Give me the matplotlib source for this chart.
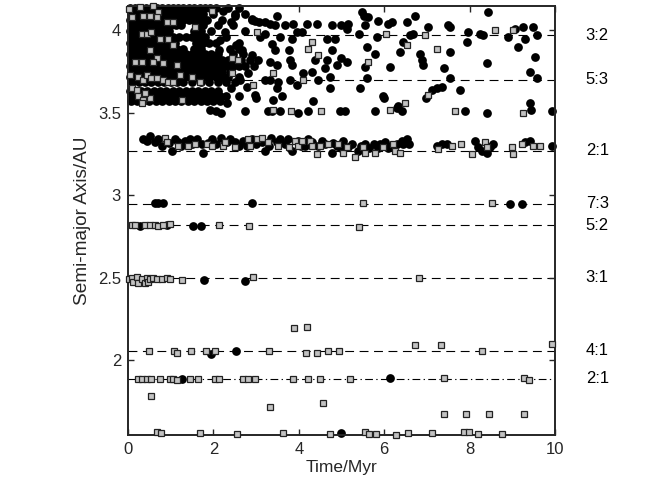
import matplotlib
matplotlib.use("Agg")
import matplotlib.pyplot as plt
from matplotlib.ticker import FuncFormatter

plt.rcParams['font.family'] = ['Liberation Sans', 'DejaVu Sans']

# resonance locations (AU) and their labels
res_a = [3.97, 3.70, 3.27, 2.95, 2.82, 2.50, 2.06, 1.89]
res_lab = ["3:2", "5:3", "2:1", "7:3", "5:2", "3:1", "4:1", "2:1"]

# dense clump of black particles at early times, given row by row
blob_a = [4.135, 4.10, 4.065, 4.03, 3.995, 3.96, 3.925, 3.89, 3.855,
          3.82, 3.785, 3.75, 3.715, 3.685, 3.635, 3.605, 3.575]
blob_t = [
    [0.05, 0.17, 0.3, 0.42, 0.55, 0.68, 0.8, 0.93, 1.05, 1.18, 1.3, 1.43, 1.55, 1.68, 1.8, 1.93, 2.05, 2.35, 2.6],
    [0.08, 0.2, 0.33, 0.46, 0.6, 0.72, 0.85, 0.98, 1.1, 1.23, 1.36, 1.5, 1.62, 1.75, 2.0, 2.5, 2.75],
    [0.04, 0.16, 0.28, 0.4, 0.53, 0.66, 0.78, 0.9, 1.03, 1.16, 1.3, 1.42, 1.55, 1.68, 1.85, 2.2, 2.9],
    [0.1, 0.22, 0.35, 0.48, 0.6, 0.73, 0.86, 1.0, 1.12, 1.25, 1.6, 1.75, 2.1, 2.45],
    [0.05, 0.18, 0.3, 0.43, 0.56, 0.7, 0.82, 0.95, 1.55, 1.7, 1.95, 2.75],
    [0.1, 0.23, 0.36, 0.5, 0.62, 0.75, 0.9, 1.05, 1.2, 1.35, 1.5, 1.65, 1.8, 2.3],
    [0.04, 0.17, 0.3, 0.42, 0.55, 0.68, 0.8, 0.95, 1.1, 1.6, 1.75, 1.9, 2.05, 2.6],
    [0.1, 0.22, 0.35, 0.48, 0.6, 0.73, 0.86, 1.0, 1.15, 1.3, 1.55, 1.7, 2.4, 2.6],
    [0.05, 0.18, 0.3, 0.43, 0.56, 0.7, 0.82, 0.95, 1.08, 1.22, 1.35, 1.5, 1.65, 1.8, 1.95, 2.1, 2.45, 2.7],
    [0.1, 0.23, 0.36, 0.5, 0.62, 0.75, 0.9, 1.03, 1.16, 1.3, 1.45, 1.6, 1.75, 1.9, 2.05, 2.2, 2.35, 2.5, 2.65, 2.85],
    [0.04, 0.17, 0.3, 0.42, 0.55, 0.68, 0.8, 0.95, 1.1, 1.25, 1.4, 1.55, 1.7, 1.85, 2.0, 2.15, 2.3, 2.45, 2.6, 2.75, 2.95],
    [0.1, 0.22, 0.35, 0.48, 0.6, 0.73, 0.86, 1.0, 1.15, 1.3, 1.45, 1.6, 1.75, 1.9, 2.05, 2.2, 2.4],
    [0.05, 0.18, 0.3, 0.43, 0.56, 0.7, 0.85, 1.0, 1.15, 1.3, 1.45, 1.6, 1.75, 1.9, 2.05, 2.2, 2.35, 2.6],
    [0.1, 0.25, 0.4, 0.55, 0.7, 0.85, 1.0, 1.15, 1.3, 1.5, 1.7, 1.9, 2.1, 2.3, 2.5],
    [0.05, 0.18, 0.3, 0.45, 0.6, 0.75, 0.9, 1.05, 1.2, 1.35, 1.5, 1.65, 1.8, 1.95, 2.1],
    [0.1, 0.22, 0.35, 0.5, 0.65, 0.8, 0.95, 1.1, 1.25, 1.4, 1.55, 1.7, 1.85, 2.0, 2.15, 2.3],
    [0.06, 0.2, 0.35, 0.5, 0.65, 0.8, 0.95, 1.1, 1.25, 1.4, 1.55, 1.7, 1.85, 2.0, 2.15],
]

# scattered black particles in the outer belt
outer_circ = [
    (2.5, 4.09), (2.9, 4.07), (3.06, 4.05), (2.78, 3.66), (2.98, 3.61),
    (2.22, 4.12), (2.42, 4.05), (2.28, 3.99), (2.16, 3.94), (2.52, 3.91), (2.82, 3.74),
    (2.62, 3.70), (2.42, 3.65), (2.32, 3.56), (2.6, 3.60), (2.68, 3.88), (2.12, 3.88),
    (3.48, 4.09), (2.97, 4.06), (3.2, 4.05), (3.33, 4.04), (3.44, 4.03), (3.68, 4.03), (3.87, 4.04),
    (4.07, 3.99), (4.19, 4.04), (4.42, 4.04), (3.95, 3.99), (3.83, 3.95), (3.56, 3.96), (3.21, 3.98),
    (3.1, 3.96), (3.37, 3.92), (3.44, 3.88), (3.76, 3.88), (3.8, 3.82), (3.83, 3.79), (2.9, 3.85),
    (3.05, 3.82), (3.33, 3.81), (3.48, 3.79), (3.33, 3.70), (3.21, 3.70), (3.52, 3.69), (3.79, 3.70),
    (3.95, 3.67), (4.11, 3.74), (4.3, 3.75), (4.46, 3.70), (4.73, 3.72), (4.73, 3.65), (4.38, 3.82),
    (4.65, 3.82), (4.61, 3.77), (4.77, 3.88), (4.89, 3.79), (5.0, 3.83), (5.12, 3.81), (4.65, 3.95),
    (4.85, 3.95), (4.77, 4.03), (5.0, 4.03), (5.12, 4.01), (5.16, 4.04), (5.4, 3.98), (5.48, 4.11),
    (5.52, 4.09), (5.63, 4.08), (5.55, 4.03), (5.86, 4.06), (5.83, 3.96), (6.1, 4.04), (6.18, 4.05),
    (6.53, 4.05), (5.59, 3.9), (5.79, 3.86), (5.55, 3.78), (5.59, 3.71), (5.44, 3.65), (6.14, 3.78),
    (6.37, 3.87), (6.45, 3.93), (3.0, 3.59), (3.4, 3.58), (3.6, 3.6), (3.48, 3.65), (4.34, 3.57),
    (6.0, 3.59), (6.3, 3.53), (6.41, 3.51), (3.37, 3.51), (3.56, 3.51), (3.99, 3.50), (4.22, 3.51),
    (4.96, 3.51), (5.08, 3.51), (5.79, 3.51), (1.92, 3.52), (2.05, 3.51), (2.19, 3.50), (2.74, 3.51),
    (3.28, 3.51),
    (6.72, 4.09), (6.6, 3.97), (6.68, 3.98), (7.03, 4.02), (6.84, 3.86), (6.88, 3.82), (6.92, 3.79),
    (7.5, 4.03), (7.54, 4.02), (7.54, 3.87), (7.39, 3.77), (7.54, 3.71), (7.78, 3.64), (7.35, 3.66),
    (7.23, 3.65), (7.11, 3.64), (6.99, 3.59), (7.97, 3.99), (7.93, 3.93), (8.25, 3.98), (8.32, 3.97),
    (8.44, 4.11), (8.4, 3.80), (8.91, 3.96), (9.07, 4.01), (9.26, 4.02), (9.49, 4.02), (9.57, 3.97),
    (9.3, 3.95), (9.14, 3.90), (9.53, 3.84), (9.41, 3.75), (9.57, 3.71), (5.98, 3.60), (6.33, 3.54),
    (7.89, 3.51), (8.4, 3.50), (9.41, 3.56), (9.45, 3.52), (9.92, 3.51),
]

# grey squares in the outer belt
outer_sq = [
    (0.02, 4.13), (0.09, 4.08), (0.28, 4.14), (0.59, 4.15), (0.71, 4.11), (0.36, 4.09), (0.52, 4.09),
    (0.67, 4.08), (0.91, 4.05), (1.06, 4.05), (1.96, 4.12), (1.57, 4.02), (0.32, 3.98), (0.44, 3.98),
    (0.55, 3.99), (0.75, 3.95), (0.94, 3.95), (1.06, 3.91), (0.52, 3.88), (0.67, 3.83), (0.16, 3.81),
    (0.32, 3.81), (0.59, 3.81), (1.14, 3.79), (0.83, 3.80), (2.43, 3.83), (2.58, 3.82), (0.05, 3.73),
    (0.24, 3.72), (0.36, 3.70), (0.44, 3.73), (0.55, 3.71), (0.67, 3.71), (0.83, 3.70), (0.94, 3.69),
    (1.06, 3.69), (1.22, 3.73), (1.49, 3.72), (1.69, 3.69), (2.43, 3.74), (0.09, 3.65), (0.2, 3.64),
    (0.24, 3.60), (0.36, 3.58), (0.52, 3.59), (0.32, 3.56), (1.26, 3.58), (0.40, 3.62),
    (3.01, 3.99), (4.3, 3.93), (4.22, 3.89), (4.46, 3.85), (5.63, 3.81), (6.04, 3.98), (6.53, 3.91),
    (3.4, 3.74), (2.93, 3.67), (4.11, 3.70), (3.4, 3.52), (3.81, 3.51), (4.51, 3.51), (6.14, 3.52),
    (6.49, 3.56), (6.96, 3.97), (7.23, 3.89), (7.03, 3.61), (7.66, 3.51), (8.6, 4.0), (9.02, 4.0),
    (9.26, 3.50),
]

# 2:1 resonance band
band_circ = [
    (0.36, 3.342), (0.52, 3.362), (0.63, 3.321), (0.79, 3.30), (1.02, 3.27), (1.18, 3.321),
    (1.34, 3.331), (1.45, 3.342), (1.61, 3.342), (1.73, 3.311), (1.76, 3.26), (1.96, 3.342),
    (2.19, 3.351), (2.31, 3.321), (2.51, 3.321), (2.7, 3.331), (2.90, 3.342), (3.13, 3.321),
    (3.21, 3.27), (3.36, 3.351), (3.48, 3.321), (3.68, 3.311), (3.83, 3.27), (3.99, 3.331),
    (4.15, 3.30), (4.30, 3.321), (4.46, 3.30), (4.61, 3.311), (4.77, 3.26), (4.89, 3.30),
    (5.04, 3.331), (5.16, 3.291), (5.39, 3.27), (5.55, 3.311), (5.75, 3.311), (5.90, 3.311),
    (6.02, 3.321), (6.17, 3.30), (6.41, 3.331), (6.53, 3.342), (6.57, 3.311),
    (0.45, 3.33), (0.95, 3.32), (1.25, 3.30), (2.05, 3.31), (2.6, 3.30), (3.0, 3.31),
    (3.55, 3.34), (4.05, 3.30), (4.55, 3.33), (5.25, 3.31), (5.65, 3.29), (6.3, 3.31),
    (0.7, 3.34), (1.1, 3.34), (1.5, 3.31), (1.88, 3.32), (2.4, 3.34), (2.78, 3.30),
    (3.3, 3.30), (3.75, 3.34), (4.22, 3.34), (4.8, 3.32), (5.0, 3.29), (5.45, 3.30),
    (5.85, 3.29), (6.1, 3.29), (6.45, 3.31),
    (7.23, 3.30), (7.35, 3.311), (7.46, 3.311), (8.13, 3.331), (8.20, 3.291), (8.28, 3.27),
    (8.4, 3.26), (8.48, 3.291), (8.56, 3.311), (9.3, 3.321), (9.41, 3.331), (9.92, 3.30),
]
band_sq = [
    (0.87, 3.351), (0.91, 3.321), (1.18, 3.30), (1.41, 3.30), (1.57, 3.311), (1.84, 3.311),
    (1.96, 3.30), (2.23, 3.30), (2.27, 3.321), (2.51, 3.291), (2.82, 3.342), (2.86, 3.30),
    (3.01, 3.342), (3.13, 3.351), (3.29, 3.321), (3.52, 3.30), (3.76, 3.291), (3.91, 3.331),
    (3.99, 3.30), (4.07, 3.331), (4.26, 3.331), (4.30, 3.30), (4.42, 3.25), (4.50, 3.30),
    (4.69, 3.311), (4.93, 3.311), (5.04, 3.26), (5.12, 3.291), (5.32, 3.23), (5.51, 3.291),
    (5.55, 3.26), (5.78, 3.26), (5.98, 3.291), (6.21, 3.311), (6.25, 3.27), (6.37, 3.26),
    (7.27, 3.28), (7.58, 3.30), (7.81, 3.311), (8.05, 3.25), (8.36, 3.321), (8.40, 3.291),
    (8.99, 3.291), (9.02, 3.25), (9.22, 3.311), (9.49, 3.30), (9.65, 3.30),
]

# inner-belt particles (7:3, 5:2, 3:1, 4:1, 2:1 and below)
inner_circ = [
    (0.63, 2.953), (0.71, 2.953), (0.83, 2.957), (2.90, 2.953), (8.95, 2.951), (9.23, 2.951),
    (0.28, 2.815), (0.91, 2.819), (1.53, 2.817), (1.72, 2.815),
    (1.78, 2.486), (2.74, 2.482),
    (1.94, 2.041), (2.53, 2.055),
    (1.26, 1.889), (6.14, 1.892),
    (4.99, 1.56),
]
inner_sq = [
    (5.51, 2.957), (8.53, 2.956),
    (0.09, 2.819), (0.16, 2.819), (0.4, 2.819), (0.51, 2.819), (0.63, 2.819), (0.71, 2.815),
    (0.83, 2.819), (0.98, 2.826), (2.12, 2.821), (2.84, 2.813), (5.42, 2.811),
    (0.02, 2.491), (0.09, 2.497), (0.12, 2.477), (0.2, 2.505), (0.24, 2.47), (0.32, 2.491),
    (0.4, 2.47), (0.44, 2.497), (0.48, 2.477), (0.51, 2.491), (0.59, 2.497), (0.67, 2.491),
    (0.79, 2.491), (0.91, 2.497), (0.98, 2.491), (1.26, 2.485), (2.92, 2.505), (6.81, 2.50),
    (0.5, 2.055), (1.08, 2.055), (1.14, 2.045), (1.47, 2.055), (1.83, 2.055), (2.04, 2.055),
    (3.31, 2.055), (4.17, 2.045), (4.43, 2.045), (4.69, 2.055), (4.95, 2.055),
    (3.89, 2.196), (4.2, 2.202), (6.72, 2.095), (7.33, 2.095), (8.28, 2.055), (9.92, 2.10),
    (0.24, 1.889), (0.32, 1.889), (0.44, 1.889), (0.55, 1.889), (0.75, 1.889), (0.98, 1.889),
    (1.06, 1.889), (1.14, 1.882), (1.45, 1.889), (1.65, 1.889), (2.04, 1.889), (2.12, 1.889),
    (2.7, 1.889), (2.82, 1.889), (2.97, 1.889), (3.87, 1.889), (4.22, 1.889), (4.5, 1.889),
    (5.2, 1.889), (7.41, 1.892), (9.28, 1.892), (9.4, 1.882),
    (0.55, 1.785), (3.33, 1.72), (4.56, 1.74),
    (7.39, 1.676), (7.91, 1.676), (8.46, 1.676), (9.28, 1.676),
    (0.69, 1.568), (0.77, 1.562), (1.69, 1.562), (2.56, 1.555), (3.62, 1.562), (4.73, 1.555),
    (5.55, 1.568), (5.65, 1.555), (5.8, 1.555), (6.27, 1.55), (6.55, 1.562), (7.11, 1.562),
    (7.87, 1.568), (7.99, 1.568), (8.2, 1.552), (8.75, 1.555),
]

circ_t, circ_a = [], []
for a, row in zip(blob_a, blob_t):
    circ_t += row
    circ_a += [a] * len(row)
for t, a in outer_circ + band_circ + inner_circ:
    circ_t.append(t)
    circ_a.append(a)
sq_t = [p[0] for p in outer_sq + band_sq + inner_sq]
sq_a = [p[1] for p in outer_sq + band_sq + inner_sq]

fig = plt.figure(figsize=(6.51, 4.88), dpi=100)
ax = fig.add_axes([0.1966, 0.1086, 0.6559, 0.8791])

for i, a in enumerate(res_a):
    if i == len(res_a) - 1:
        ax.plot([0, 10], [a, a], color='k', lw=0.8, dashes=(7, 3, 1.2, 3), zorder=1)
    else:
        ax.plot([0, 10], [a, a], color='k', lw=0.8, dashes=(8, 5), zorder=1)
    ax.text(10.72, a, res_lab[i], ha='left', va='center', fontsize=12, clip_on=False)

ax.plot(circ_t, circ_a, 'o', ms=6.3, mfc='k', mec='k', mew=0, zorder=2, clip_on=False)
ax.plot(sq_t, sq_a, 's', ms=4.4, mfc='#c2c2c2', mec='#222222', mew=0.9, zorder=3, clip_on=False)

ax.set_xlim(0, 10)
ax.set_ylim(1.548, 4.148)
ax.set_xticks([0, 2, 4, 6, 8, 10])
ax.set_yticks([2, 2.5, 3, 3.5, 4])
ax.yaxis.set_major_formatter(FuncFormatter(lambda v, p: '%g' % v))
ax.tick_params(direction='in', length=4, width=1, top=True, right=True,
               labelsize=12, labelcolor='#262626', color='#262626', pad=5)
for s in ax.spines.values():
    s.set_linewidth(1.4)
    s.set_color('#262626')

ax.set_xlabel("Time/Myr", fontsize=12.5, color='#262626', labelpad=2)
ax.set_ylabel("Semi-major Axis/AU", fontsize=13.7, color='#262626', labelpad=5)

fig.savefig("out.png", dpi=100)
